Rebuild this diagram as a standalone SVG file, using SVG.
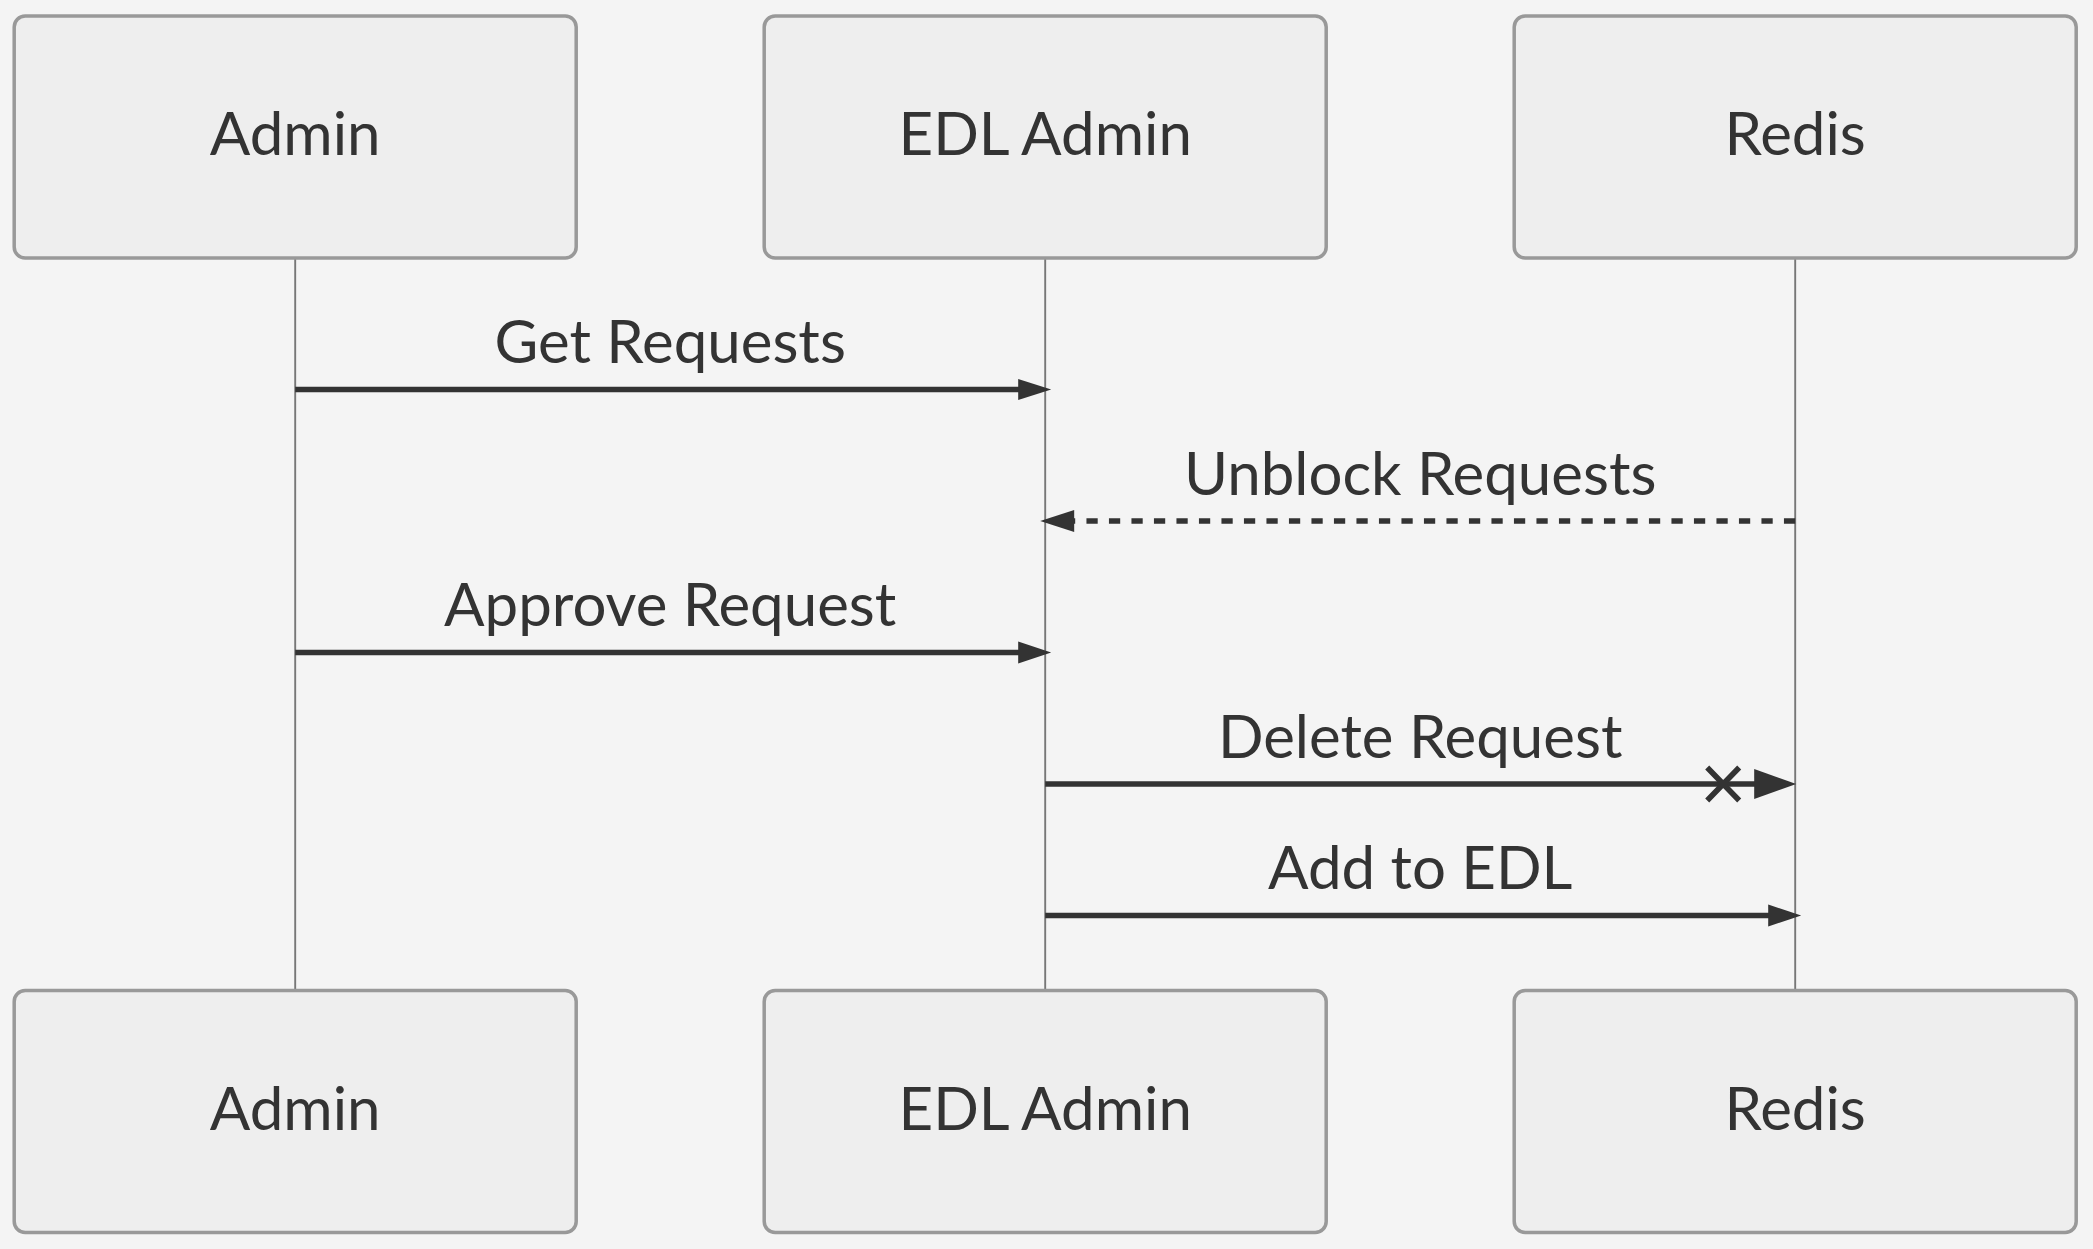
<svg xmlns="http://www.w3.org/2000/svg" width="2093" height="1249" viewBox="0 0 2093 1249">
<style>
.actor{fill:#eeeeee;stroke:#999999;stroke-width:3.5}
.atext{font-family:Lato,"Liberation Sans",sans-serif;font-size:60px;fill:#333333;text-anchor:middle}
.life{stroke:#777777;stroke-width:1.9}
.msg{stroke:#333333;stroke-width:5.6;fill:none}
.dot{stroke-dasharray:11.25 11.25}
.head{fill:#333333}
.mtext{font-family:Lato,"Liberation Sans",sans-serif;font-size:60px;fill:#333333;text-anchor:middle}
</style>
<rect x="0" y="0" width="2093" height="1249" fill="#f4f4f4"/>
<g transform="translate(1.2,0.5)">
<g id="lifelines">
<line class="life" x1="294" y1="258" x2="294" y2="990"/>
<line class="life" x1="1044" y1="258" x2="1044" y2="990"/>
<line class="life" x1="1794" y1="258" x2="1794" y2="990"/>
</g>
<g id="actor-admin-top"><rect class="actor" x="13" y="15.5" width="562" height="242" rx="11"/><text class="atext" x="294" y="154">Admin</text></g>
<g id="actor-edl-top"><rect class="actor" x="763" y="15.5" width="562" height="242" rx="11"/><text class="atext" x="1044" y="154">EDL Admin</text></g>
<g id="actor-redis-top"><rect class="actor" x="1513" y="15.5" width="562" height="242" rx="11"/><text class="atext" x="1794" y="154">Redis</text></g>
<g id="actor-admin-bottom"><rect class="actor" x="13" y="990" width="562" height="242" rx="11"/><text class="atext" x="294" y="1129">Admin</text></g>
<g id="actor-edl-bottom"><rect class="actor" x="763" y="990" width="562" height="242" rx="11"/><text class="atext" x="1044" y="1129">EDL Admin</text></g>
<g id="actor-redis-bottom"><rect class="actor" x="1513" y="990" width="562" height="242" rx="11"/><text class="atext" x="1794" y="1129">Redis</text></g>
<g id="connectors">
<line class="msg" x1="294" y1="389" x2="1020" y2="389"/>
<polygon class="head" points="1017,378.5 1050,389 1017,399.5"/>
<text class="mtext" x="669" y="362">Get Requests</text>
<line class="msg dot" x1="1794" y1="520.5" x2="1068" y2="520.5"/>
<polygon class="head" points="1073,509.5 1039,520.5 1073,531.5"/>
<text class="mtext" x="1419" y="494">Unblock Requests</text>
<line class="msg" x1="294" y1="652" x2="1020" y2="652"/>
<polygon class="head" points="1017,641 1050,652 1017,663"/>
<text class="mtext" x="669" y="625">Approve Request</text>
<line class="msg" x1="1044" y1="783.5" x2="1760" y2="783.5"/>
<polygon class="head" points="1753,768.5 1795,783.5 1753,798.5"/>
<path class="msg" d="M1706,767 L1738,800 M1706,800 L1738,767" stroke-width="5"/>
<text class="mtext" x="1419" y="757">Delete Request</text>
<line class="msg" x1="1044" y1="915" x2="1770" y2="915"/>
<polygon class="head" points="1767,904 1800,915 1767,926"/>
<text class="mtext" x="1419" y="888">Add to EDL</text>
</g>
</g>
</svg>
